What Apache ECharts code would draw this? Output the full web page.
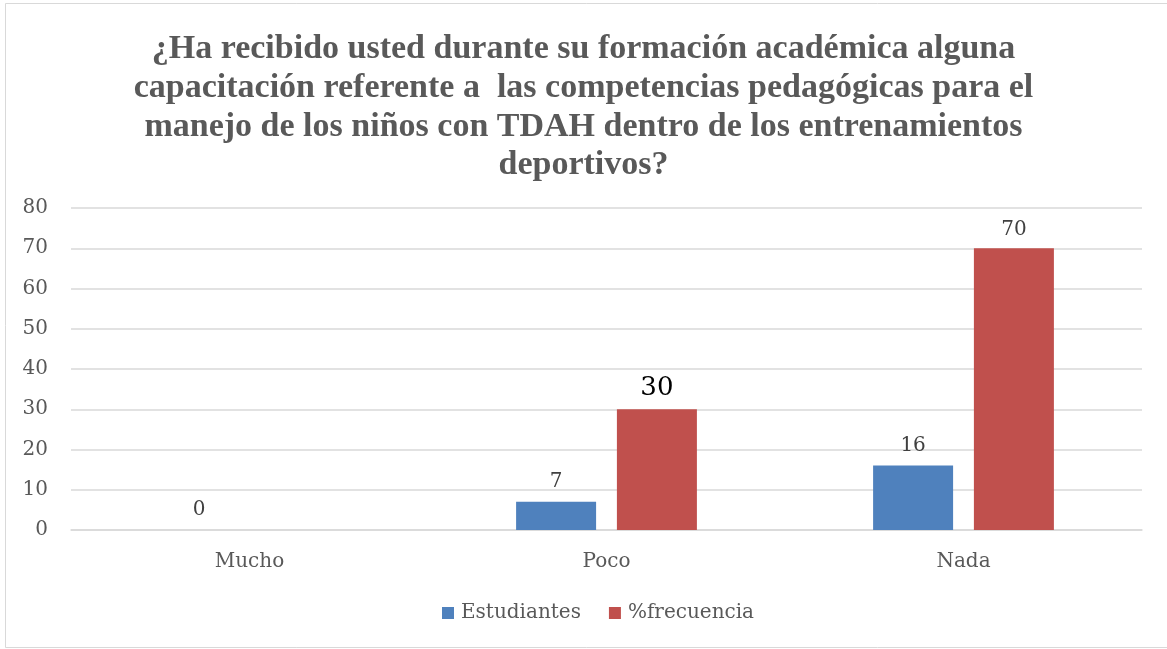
<!DOCTYPE html>
<html>
<head>
<meta charset="utf-8">
<script src="https://cdn.jsdelivr.net/npm/echarts@6/dist/echarts.min.js"></script>
<style>
  html, body { margin: 0; padding: 0; background: #fff; }
  #chart { width: 1167px; height: 649px; }
</style>
</head>
<body>
<div id="chart"></div>
<script>
// datos
const categorias = ['Mucho', 'Poco', 'Nada'];
const estudiantes = [0, 7, 16];
const frecuencia = [0, 30, 70];
const ticksY = [0, 10, 20, 30, 40, 50, 60, 70, 80];

const titulo = '¿Ha recibido usted durante su formación académica alguna\n' +
    'capacitación referente a  las competencias pedagógicas para el\n' +
    'manejo de los niños con TDAH dentro de los entrenamientos\n' +
    'deportivos?';

const gris = '#595959';
const fuente = 'DejaVu Serif';

const chart = echarts.init(document.getElementById('chart'));

const option = {
    animation: false,
    backgroundColor: '#fff',
    title: {
        text: titulo,
        left: 'center',
        top: 25,
        textStyle: {
            fontFamily: 'Liberation Serif',
            fontWeight: 'bold',
            fontSize: 34,
            lineHeight: 38.7,
            color: gris
        }
    },
    graphic: [{
        type: 'rect',
        shape: { x: 5.5, y: 3.5, width: 1170, height: 644 },
        style: { fill: 'none', stroke: '#d9d9d9', lineWidth: 1 },
        silent: true
    }],
    legend: {
        bottom: 21,
        left: 437,
        itemWidth: 12,
        itemHeight: 12,
        itemGap: 28,
        icon: 'rect',
        textStyle: { fontFamily: fuente, fontSize: 20, color: gris, padding: [0, 0, 0, 2] },
        data: ['Estudiantes', '%frecuencia']
    },
    grid: { left: 71, right: 25, top: 208, bottom: 119 },
    xAxis: {
        type: 'category',
        data: categorias,
        axisLine: { lineStyle: { color: '#d9d9d9', width: 1.5 } },
        axisTick: { show: false },
        axisLabel: { fontFamily: fuente, fontSize: 20, color: gris, margin: 22 }
    },
    yAxis: {
        type: 'value',
        min: ticksY[0],
        max: ticksY[ticksY.length - 1],
        interval: 10,
        axisLine: { show: false },
        axisTick: { show: false },
        splitLine: { lineStyle: { color: '#d9d9d9', width: 1.5 } },
        axisLabel: { fontFamily: fuente, fontSize: 20, color: gris, margin: 23 }
    },
    series: [
        {
            name: 'Estudiantes',
            type: 'bar',
            data: estudiantes,
            barWidth: 80,
            barGap: '26%',
            itemStyle: { color: '#4f81bd' },
            label: {
                show: true,
                position: 'top',
                distance: 10,
                fontFamily: fuente,
                fontSize: 20,
                color: '#404040'
            }
        },
        {
            name: '%frecuencia',
            type: 'bar',
            data: frecuencia.map((v, i) => i === 0
                ? { value: v, label: { show: false } }
                : i === 1
                    ? { value: v, label: { fontSize: 26, color: '#000' } }
                    : v),
            barWidth: 80,
            itemStyle: { color: '#c0504d' },
            label: {
                show: true,
                position: 'top',
                distance: 8,
                fontFamily: fuente,
                fontSize: 20,
                color: '#404040'
            }
        }
    ]
};

chart.setOption(option);
</script>
</body>
</html>
